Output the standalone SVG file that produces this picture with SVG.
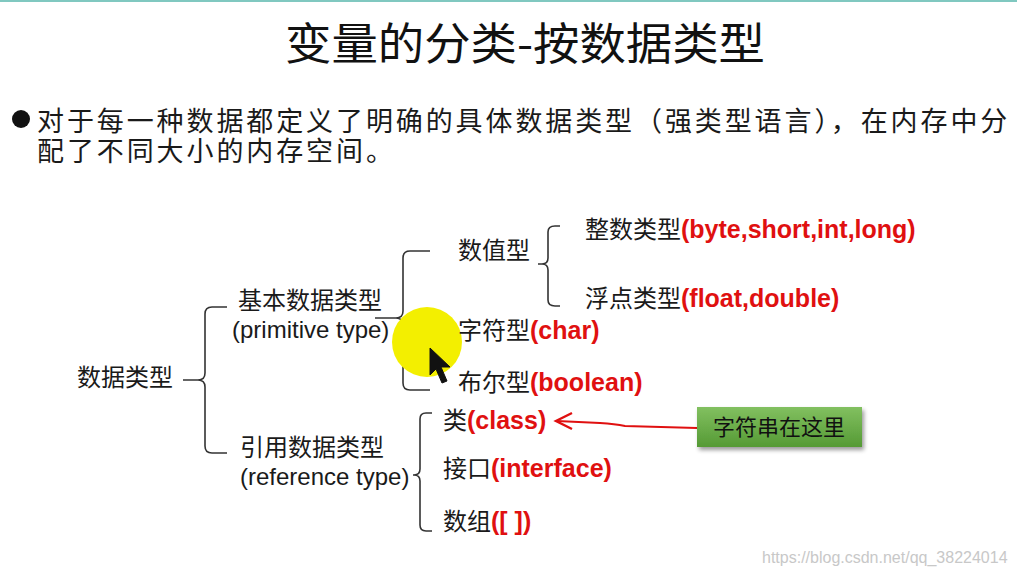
<svg xmlns="http://www.w3.org/2000/svg" width="1017" height="577" viewBox="0 0 1017 577">
<style>
.cn{font-family:"Noto Sans CJK SC","Liberation Sans",sans-serif;fill:#1a1a1a;font-size:24px}
.en{font-family:"Liberation Sans","Noto Sans CJK SC",sans-serif;fill:#1a1a1a;font-size:24px}
.red{font-family:"Liberation Sans","Noto Sans CJK SC",sans-serif;fill:#e01010;font-weight:bold;font-size:25px}
.brace{fill:none;stroke:#333;stroke-width:1.6}
</style>
<defs>
<linearGradient id="g" x1="0" y1="0" x2="0" y2="1">
<stop offset="0" stop-color="#82c060"/>
<stop offset="1" stop-color="#559a35"/>
</linearGradient>
<filter id="sh" x="-10%" y="-20%" width="130%" height="160%">
<feGaussianBlur in="SourceAlpha" stdDeviation="2"/>
<feOffset dx="2" dy="3"/>
<feComponentTransfer><feFuncA type="linear" slope="0.4"/></feComponentTransfer>
<feMerge><feMergeNode/><feMergeNode in="SourceGraphic"/></feMerge>
</filter>
</defs>
<rect width="1017" height="577" fill="#fff"/>
<rect width="1017" height="2" fill="#80c8c0"/>
<text x="285" y="60" font-family="Noto Sans CJK SC,sans-serif" font-size="44" fill="#111" textLength="480" lengthAdjust="spacingAndGlyphs">变量的分类-按数据类型</text>
<circle cx="21" cy="119" r="9" fill="#111"/>
<text font-family="Noto Sans CJK SC,sans-serif" font-size="27" fill="#1a1a1a" letter-spacing="2.9"><tspan x="37" y="131">对于每一种数据都定义了明确的具体数据类型（强类型语言），在内存中分</tspan><tspan x="37" y="161">配了不同大小的内存空间。</tspan></text>

<g id="connectors">
<path class="brace" d="M227,307 L212,307 Q205,307 205,314 L205,373 Q205,380 198,380 L183,380 M198,380 Q205,380 205,387 L205,446 Q205,453 212,453 L227,453"/>
<path class="brace" d="M430,251 L410,251 Q403,251 403,258 L403,311 Q403,318 396,318 L375,318 M396,318 Q403,318 403,325 L403,383 Q403,390 410,390 L430,390"/>
<path class="brace" d="M560,226 L555,226 Q548,226 548,232 L548,258 Q548,264 542,264 L538,264 M542,264 Q548,264 548,270 L548,300 Q548,306 555,306 L560,306"/>
<path class="brace" d="M432,413 L426,413 Q420,413 420,419 L420,469 Q420,475 414,475 L413,475 M414,475 Q420,475 420,481 L420,525 Q420,531 426,531 L432,531"/>
<path d="M697,428 L625,426 Q615,424 600,423 L557,421" fill="none" stroke="#e01010" stroke-width="2"/>
<path d="M572,413 L556,421 L572,429" fill="none" stroke="#e01010" stroke-width="2.4"/>
</g>

<g id="n-root"><text class="cn" x="77" y="386">数据类型</text></g>
<g id="n-primitive"><text class="cn" x="238" y="309">基本数据类型</text><text class="en" x="232" y="338">(primitive type)</text></g>
<g id="n-reference"><text class="cn" x="240" y="456">引用数据类型</text><text class="en" x="240" y="485">(reference type)</text></g>
<g id="n-numeric"><text class="cn" x="458" y="259">数值型</text></g>
<g id="n-int"><text class="cn" x="585" y="238">整数类型<tspan class="red">(byte,short,int,long)</tspan></text></g>
<g id="n-float"><text class="cn" x="585" y="307">浮点类型<tspan class="red">(float,double)</tspan></text></g>

<g id="highlight">
<circle cx="427" cy="342" r="35" fill="#f3ef00"/>
<polygon points="430,348 430,375 436,369 442,383 447,381 441,367 450,367" fill="#111" stroke="#111" stroke-width="1"/>
</g>

<g id="n-char"><text class="cn" x="458" y="339">字符型<tspan class="red">(char)</tspan></text></g>
<g id="n-bool"><text class="cn" x="458" y="391">布尔型<tspan class="red">(boolean)</tspan></text></g>
<g id="n-class"><text class="cn" x="443" y="429">类<tspan class="red">(class)</tspan></text></g>
<g id="n-interface"><text class="cn" x="443" y="477">接口<tspan class="red">(interface)</tspan></text></g>
<g id="n-array"><text class="cn" x="443" y="530">数组<tspan class="red">([ ])</tspan></text></g>
<g id="n-note">
<rect x="697" y="407" width="165" height="40" fill="url(#g)" filter="url(#sh)"/>
<text x="779" y="435" text-anchor="middle" font-family="Noto Sans CJK SC,sans-serif" font-size="22" fill="#111">字符串在这里</text>
</g>
<text x="762" y="563" font-family="Liberation Sans,sans-serif" font-size="16" fill="#c8c8c8">https://blog.csdn.net/qq_38224014</text>
</svg>
